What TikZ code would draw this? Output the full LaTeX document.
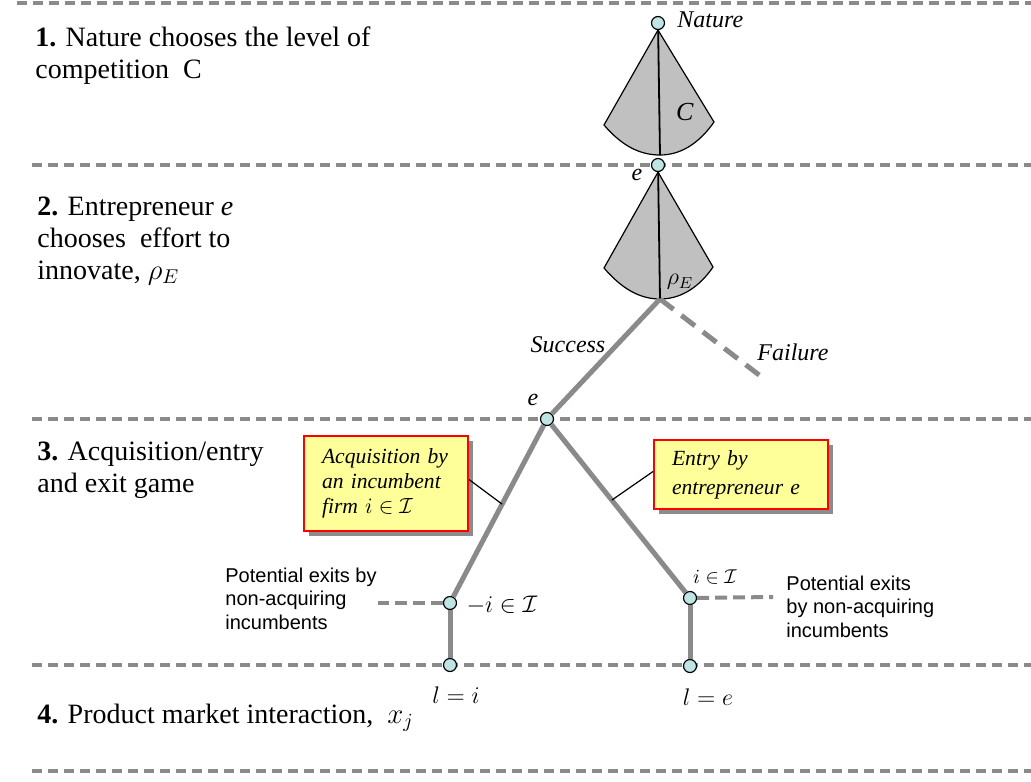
\documentclass[tikz,border=0pt]{standalone}
\usepackage{fontspec}
\setmainfont{Liberation Serif}
\setsansfont{Liberation Sans}
\usetikzlibrary{shadows}
\definecolor{nodecyan}{HTML}{BFE4E4}
\definecolor{conegray}{HTML}{C0C0C0}
\definecolor{linegray}{HTML}{8A8A8A}
\definecolor{boxyellow}{HTML}{FFFF99}
\begin{document}
\begin{tikzpicture}[x=0.5pt, y=-0.5pt,
  stageline/.style={draw=linegray, line width=1.6pt, dash pattern=on 5pt off 3pt},
  dnode/.style={circle, draw=black, fill=nodecyan, line width=0.6pt, inner sep=0pt, minimum size=6.5pt},
  cone/.style={fill=conegray, draw=black, line width=0.6pt},
  coneaxis/.style={draw=black, line width=0.9pt},
  branch/.style={draw=linegray, line width=2.5pt},
  fail/.style={draw=linegray, line width=2.5pt, dash pattern=on 8.5pt off 5pt},
  exitline/.style={draw=linegray, line width=2pt, dash pattern=on 6pt off 3pt},
  stagetxt/.style={anchor=base west, align=left, inner sep=0pt, font=\fontsize{14}{16}\selectfont},
  sanstxt/.style={anchor=base west, align=left, inner sep=0pt, font=\sffamily\fontsize{10}{11.75}\selectfont},
  infobox/.style={draw=red, line width=1pt, fill=boxyellow, anchor=north west, align=left, inner xsep=8.5pt,
    drop shadow={opacity=1, fill=black!45, shadow xshift=2.5pt, shadow yshift=-2.5pt}},
  lbl/.style={inner sep=0pt, font=\fontsize{12}{14}\selectfont}]
\useasboundingbox (0,0) rectangle (1031,781);
% stage separators
\draw[stageline] (17,3) -- (1031,3);
\draw[stageline] (32,165) -- (1031,165);
\draw[stageline] (32,419) -- (1031,419);
\draw[stageline] (32,665) -- (1031,665);
\draw[stageline] (32,771) -- (1031,771);
% stage texts (anchored at the last line)
\node[stagetxt] (st1) at (35,79) {\textbf{1.} Nature chooses the level of\\competition\ \ C};
\node[stagetxt] (st2) at (37,279) {\textbf{2.} Entrepreneur \textit{e}\\chooses\ \ effort to\\innovate, $\rho_E$};
\node[stagetxt] (st3) at (37,492) {\textbf{3.} Acquisition/entry\\and exit game};
\node[stagetxt] (st4) at (37,723) {\textbf{4.} Product market interaction,\ \ $x_j$};
% decision nodes
\node[dnode] (nat) at (658,23){};
\node[dnode] (e1) at (658,165){};
\node[dnode] (e2) at (547,419){};
\node[dnode] (acq) at (450,603){};
\node[dnode] (ent) at (690,598){};
\node[dnode] (ti) at (450,665){};
\node[dnode] (te) at (690,666){};
\coordinate (cb1) at (660,155);
\coordinate (cb2) at (660,299);
\coordinate (fl) at (763,378);
\coordinate (xa) at (378,603);
\coordinate (xb) at (773,597);
% cones
\filldraw[cone] (nat.south) -- (604,125) .. controls (622,146) and (640,155) .. (cb1) .. controls (682,155) and (700,142) .. (714,122) -- cycle;
\draw[coneaxis] (nat) -- (cb1);
\filldraw[cone] (e1.south) -- (604,268) .. controls (622,289) and (640,299) .. (cb2) .. controls (682,299) and (700,286) .. (713,267) -- cycle;
\draw[coneaxis] (e1) -- (cb2);
% branches
\draw[branch] (cb2) -- (e2);
\draw[fail] (cb2) -- (fl);
\draw[branch] (e2) -- coordinate[pos=0.46] (ca) (acq);
\draw[branch] (e2) -- coordinate[pos=0.45] (cn) (ent);
\draw[branch] (acq) -- (ti);
\draw[branch] (ent) -- (te);
\draw[exitline] (acq) -- (xa);
\draw[exitline] (ent) -- (xb);
% boxes
\node[infobox, minimum width=82pt, minimum height=47.5pt, text width=64pt,
  font=\itshape\fontsize{10.8}{12.5}\selectfont] (acqbox) at (303,435) {Acquisition by\\an incumbent\\firm $i \in \mathcal{I}$};
\node[infobox, minimum width=87pt, minimum height=34.5pt, text width=69pt,
  font=\itshape\fontsize{10.8}{14.5}\selectfont] (entbox) at (653,439) {Entry by\\entrepreneur e};
\draw[line width=0.6pt] ([yshift=2pt]acqbox.east) -- (ca);
\draw[line width=0.6pt] ([yshift=1.5pt]entbox.west) -- (cn);
% labels
\node[lbl, anchor=west] (lnat) at (677,20) {\textit{Nature}};
\node[lbl, font=\fontsize{13}{15}\selectfont] (lc) at (685,112) {\textit{C}};
\node[lbl] (lrho) at (680,282) {$\rho_E$};
\node[lbl] (le1) at (637,175) {\textit{e}};
\node[lbl] (le2) at (533,400) {\textit{e}};
\node[lbl] (lsucc) at (568,345) {\textit{Success}};
\node[lbl] (lfail) at (793,352) {\textit{Failure}};
\node[lbl] (lmi) at (502,605) {$-i \in \mathcal{I}$};
\node[lbl, font=\fontsize{10}{12}\selectfont] (lii) at (715,577) {$i \in \mathcal{I}$};
\node[lbl] (lli) at (456,695) {$l = i$};
\node[lbl] (lle) at (708,697) {$l = e$};
\node[sanstxt] (xtl) at (225,629) {Potential exits by\\non-acquiring\\incumbents};
\node[sanstxt] (xtr) at (786,637) {Potential exits\\by non-acquiring\\incumbents};
\end{tikzpicture}
\end{document}
